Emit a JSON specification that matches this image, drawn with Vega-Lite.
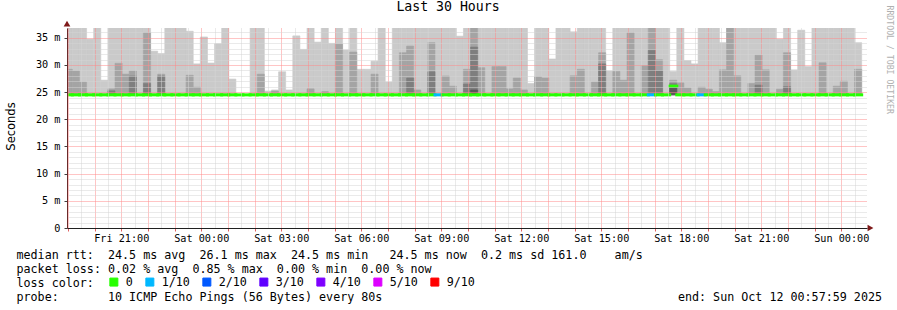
{
  "$schema": "https://vega.github.io/schema/vega-lite/v6.json",
  "width": 800,
  "height": 200,
  "autosize": {"type": "none"},
  "padding": {"left": 67, "top": 28, "right": 30, "bottom": 82},
  "background": "white",
  "title": {"text": "Last 30 Hours", "font": "DejaVu Sans Mono", "fontSize": 13.2, "fontWeight": "normal", "color": "#000000", "anchor": "middle", "frame": "group", "dx": -19, "dy": 23, "offset": 4, "baseline": "alphabetic"},
  "config": {"view": {"stroke": null}},
  "data": {"values": [
    {"t0":"2025-10-10T18:54","t1":"2025-10-10T19:10","b1":37,"b2":29.2,"m":24.5,"loss":"0"},
    {"t0":"2025-10-10T19:10","t1":"2025-10-10T19:26","b1":37,"b2":28.9,"m":24.5,"loss":"0"},
    {"t0":"2025-10-10T19:26","t1":"2025-10-10T19:42","b1":37,"b2":26.85,"m":24.5,"loss":"0"},
    {"t0":"2025-10-10T19:42","t1":"2025-10-10T19:58","b1":34.76,"m":24.5,"loss":"0"},
    {"t0":"2025-10-10T19:58","t1":"2025-10-10T20:14","b1":37,"m":24.5,"loss":"0"},
    {"t0":"2025-10-10T20:14","t1":"2025-10-10T20:30","b1":27.2,"m":24.5,"loss":"0"},
    {"t0":"2025-10-10T20:30","t1":"2025-10-10T20:46","b1":37,"b2":25.6,"b3":25.25,"m":24.5,"loss":"0"},
    {"t0":"2025-10-10T20:46","t1":"2025-10-10T21:02","b1":37,"b2":30.3,"m":24.5,"loss":"0"},
    {"t0":"2025-10-10T21:02","t1":"2025-10-10T21:18","b1":37,"b2":28.3,"m":24.5,"loss":"0"},
    {"t0":"2025-10-10T21:18","t1":"2025-10-10T21:34","b1":37,"b2":28.9,"b3":27.96,"m":24.5,"loss":"0"},
    {"t0":"2025-10-10T21:34","t1":"2025-10-10T21:50","b1":37,"m":24.5,"loss":"0"},
    {"t0":"2025-10-10T21:50","t1":"2025-10-10T22:06","b1":37,"b2":35.9,"b3":26.6,"m":24.5,"loss":"0"},
    {"t0":"2025-10-10T22:06","t1":"2025-10-10T22:22","b1":32.55,"m":24.5,"loss":"0"},
    {"t0":"2025-10-10T22:22","t1":"2025-10-10T22:38","b1":32.1,"b2":28.3,"b3":27.96,"m":24.5,"loss":"0"},
    {"t0":"2025-10-10T22:38","t1":"2025-10-10T22:54","b1":37,"m":24.5,"loss":"0"},
    {"t0":"2025-10-10T22:54","t1":"2025-10-10T23:10","b1":37,"m":24.5,"loss":"0"},
    {"t0":"2025-10-10T23:10","t1":"2025-10-10T23:26","b1":37,"m":24.5,"loss":"0"},
    {"t0":"2025-10-10T23:26","t1":"2025-10-10T23:42","b1":36.2,"b2":28.1,"m":24.5,"loss":"0"},
    {"t0":"2025-10-10T23:42","t1":"2025-10-10T23:58","b1":30.2,"b2":25.9,"m":24.5,"loss":"0"},
    {"t0":"2025-10-10T23:58","t1":"2025-10-11T00:14","b1":35.15,"m":24.5,"loss":"0"},
    {"t0":"2025-10-11T00:14","t1":"2025-10-11T00:30","b1":30.35,"m":24.5,"loss":"0"},
    {"t0":"2025-10-11T00:30","t1":"2025-10-11T00:46","b1":33.9,"m":24.5,"loss":"0"},
    {"t0":"2025-10-11T00:46","t1":"2025-10-11T01:02","b1":37,"m":24.5,"loss":"0"},
    {"t0":"2025-10-11T01:02","t1":"2025-10-11T01:18","b1":27.4,"m":24.5,"loss":"0"},
    {"t0":"2025-10-11T01:18","t1":"2025-10-11T01:34","m":24.5,"loss":"0"},
    {"t0":"2025-10-11T01:34","t1":"2025-10-11T01:50","m":24.5,"loss":"0"},
    {"t0":"2025-10-11T01:50","t1":"2025-10-11T02:06","b1":37,"m":24.5,"loss":"0"},
    {"t0":"2025-10-11T02:06","t1":"2025-10-11T02:22","b1":37,"b2":28.3,"m":24.5,"loss":"0"},
    {"t0":"2025-10-11T02:22","t1":"2025-10-11T02:38","b1":25.2,"m":24.5,"loss":"0"},
    {"t0":"2025-10-11T02:38","t1":"2025-10-11T02:54","b1":25.4,"b2":25.2,"m":24.5,"loss":"0"},
    {"t0":"2025-10-11T02:54","t1":"2025-10-11T03:10","b1":28.75,"m":24.5,"loss":"0"},
    {"t0":"2025-10-11T03:10","t1":"2025-10-11T03:26","b1":25.4,"m":24.5,"loss":"0"},
    {"t0":"2025-10-11T03:26","t1":"2025-10-11T03:42","b1":35.35,"m":24.5,"loss":"0"},
    {"t0":"2025-10-11T03:42","t1":"2025-10-11T03:58","b1":32.86,"m":24.5,"loss":"0"},
    {"t0":"2025-10-11T03:58","t1":"2025-10-11T04:14","b1":37,"b2":25.6,"m":24.5,"loss":"0"},
    {"t0":"2025-10-11T04:14","t1":"2025-10-11T04:30","b1":34.2,"m":24.5,"loss":"0"},
    {"t0":"2025-10-11T04:30","t1":"2025-10-11T04:46","b1":37,"b2":25.1,"m":24.5,"loss":"0"},
    {"t0":"2025-10-11T04:46","t1":"2025-10-11T05:02","b1":33.97,"m":24.5,"loss":"0"},
    {"t0":"2025-10-11T05:02","t1":"2025-10-11T05:18","b1":37,"b2":33.84,"m":24.5,"loss":"0"},
    {"t0":"2025-10-11T05:18","t1":"2025-10-11T05:34","b1":32.74,"m":24.5,"loss":"0"},
    {"t0":"2025-10-11T05:34","t1":"2025-10-11T05:50","b1":37,"b2":32.37,"m":24.5,"loss":"0"},
    {"t0":"2025-10-11T05:50","t1":"2025-10-11T06:06","b1":29.2,"m":24.5,"loss":"0"},
    {"t0":"2025-10-11T06:06","t1":"2025-10-11T06:22","b1":29.2,"m":24.5,"loss":"0"},
    {"t0":"2025-10-11T06:22","t1":"2025-10-11T06:38","b1":30.7,"b2":28.3,"m":24.5,"loss":"0"},
    {"t0":"2025-10-11T06:38","t1":"2025-10-11T06:54","b1":37,"m":24.5,"loss":"0"},
    {"t0":"2025-10-11T06:54","t1":"2025-10-11T07:10","b1":26.85,"m":24.5,"loss":"0"},
    {"t0":"2025-10-11T07:10","t1":"2025-10-11T07:26","b1":37,"m":24.5,"loss":"0"},
    {"t0":"2025-10-11T07:26","t1":"2025-10-11T07:42","b1":37,"b2":32.25,"m":24.5,"loss":"0"},
    {"t0":"2025-10-11T07:42","t1":"2025-10-11T07:58","b1":37,"b2":33.47,"b3":27.6,"m":24.5,"loss":"0"},
    {"t0":"2025-10-11T07:58","t1":"2025-10-11T08:14","b1":37,"b2":25.4,"m":24.5,"loss":"0"},
    {"t0":"2025-10-11T08:14","t1":"2025-10-11T08:30","b1":37,"m":24.5,"loss":"0"},
    {"t0":"2025-10-11T08:30","t1":"2025-10-11T08:46","b1":37,"b2":34.1,"b3":28.75,"m":24.5,"loss":"0"},
    {"t0":"2025-10-11T08:46","t1":"2025-10-11T09:02","b1":37,"m":24.5,"loss":"1/10"},
    {"t0":"2025-10-11T09:02","t1":"2025-10-11T09:18","b1":37,"b2":27.96,"m":24.5,"loss":"0"},
    {"t0":"2025-10-11T09:18","t1":"2025-10-11T09:34","b1":37,"b2":26.1,"m":24.5,"loss":"0"},
    {"t0":"2025-10-11T09:34","t1":"2025-10-11T09:50","b1":35.3,"m":24.5,"loss":"0"},
    {"t0":"2025-10-11T09:50","t1":"2025-10-11T10:06","b1":37,"b2":29.2,"b3":26.5,"m":24.5,"loss":"0"},
    {"t0":"2025-10-11T10:06","t1":"2025-10-11T10:22","b1":37,"b2":37,"b3":33.3,"b4":25.4,"m":24.5,"loss":"0"},
    {"t0":"2025-10-11T10:22","t1":"2025-10-11T10:38","b1":37,"b2":29.5,"m":24.5,"loss":"0"},
    {"t0":"2025-10-11T10:38","t1":"2025-10-11T10:54","b1":37,"m":24.5,"loss":"0"},
    {"t0":"2025-10-11T10:54","t1":"2025-10-11T11:10","b1":37,"b2":29.7,"m":24.5,"loss":"0"},
    {"t0":"2025-10-11T11:10","t1":"2025-10-11T11:26","b1":37,"b2":29.7,"m":24.5,"loss":"0"},
    {"t0":"2025-10-11T11:26","t1":"2025-10-11T11:42","b1":37,"b2":25.6,"m":24.5,"loss":"0"},
    {"t0":"2025-10-11T11:42","t1":"2025-10-11T11:58","b1":37,"b2":27.6,"m":24.5,"loss":"0"},
    {"t0":"2025-10-11T11:58","t1":"2025-10-11T12:14","b1":37,"b2":25.4,"m":24.5,"loss":"0"},
    {"t0":"2025-10-11T12:14","t1":"2025-10-11T12:30","b1":26.6,"m":24.5,"loss":"0"},
    {"t0":"2025-10-11T12:30","t1":"2025-10-11T12:46","b1":37,"b2":27.8,"m":24.5,"loss":"0"},
    {"t0":"2025-10-11T12:46","t1":"2025-10-11T13:02","b1":37,"b2":27.6,"m":24.5,"loss":"0"},
    {"t0":"2025-10-11T13:02","t1":"2025-10-11T13:18","b1":31.1,"m":24.5,"loss":"0"},
    {"t0":"2025-10-11T13:18","t1":"2025-10-11T13:34","b1":37,"m":24.5,"loss":"0"},
    {"t0":"2025-10-11T13:34","t1":"2025-10-11T13:50","b1":37,"m":24.5,"loss":"0"},
    {"t0":"2025-10-11T13:50","t1":"2025-10-11T14:06","b1":36.1,"b2":28.0,"m":24.5,"loss":"0"},
    {"t0":"2025-10-11T14:06","t1":"2025-10-11T14:22","b1":37,"b2":29.2,"m":24.5,"loss":"0"},
    {"t0":"2025-10-11T14:22","t1":"2025-10-11T14:38","b1":37,"m":24.5,"loss":"0"},
    {"t0":"2025-10-11T14:38","t1":"2025-10-11T14:54","b1":37,"b2":26.85,"m":24.5,"loss":"0"},
    {"t0":"2025-10-11T14:54","t1":"2025-10-11T15:10","b1":37,"b2":32.25,"b3":30.2,"m":24.5,"loss":"0"},
    {"t0":"2025-10-11T15:10","t1":"2025-10-11T15:26","b1":28.9,"m":24.5,"loss":"0"},
    {"t0":"2025-10-11T15:26","t1":"2025-10-11T15:42","b1":37,"b2":28.8,"m":24.5,"loss":"0"},
    {"t0":"2025-10-11T15:42","t1":"2025-10-11T15:58","b1":37,"b2":27.2,"m":24.5,"loss":"0"},
    {"t0":"2025-10-11T15:58","t1":"2025-10-11T16:14","b1":37,"b2":35.9,"m":24.5,"loss":"0"},
    {"t0":"2025-10-11T16:14","t1":"2025-10-11T16:30","b1":37,"m":24.5,"loss":"0"},
    {"t0":"2025-10-11T16:30","t1":"2025-10-11T16:46","b1":37,"b2":29.85,"m":24.5,"loss":"0"},
    {"t0":"2025-10-11T16:46","t1":"2025-10-11T17:02","b1":37,"b2":37,"b3":32.7,"m":24.5,"loss":"1/10"},
    {"t0":"2025-10-11T17:02","t1":"2025-10-11T17:18","b1":37,"b2":30.97,"b3":28.9,"m":24.5,"loss":"0"},
    {"t0":"2025-10-11T17:18","t1":"2025-10-11T17:34","b1":37,"m":24.5,"loss":"0"},
    {"t0":"2025-10-11T17:34","t1":"2025-10-11T17:50","b1":28.8,"b2":27.2,"b3":26.6,"b4":26.1,"m":26.1,"loss":"0"},
    {"t0":"2025-10-11T17:50","t1":"2025-10-11T18:06","b1":37,"b2":26.7,"m":24.5,"loss":"0"},
    {"t0":"2025-10-11T18:06","t1":"2025-10-11T18:22","b1":30.8,"b2":25.75,"m":24.5,"loss":"0"},
    {"t0":"2025-10-11T18:22","t1":"2025-10-11T18:38","b1":30.2,"m":24.5,"loss":"0"},
    {"t0":"2025-10-11T18:38","t1":"2025-10-11T18:54","b1":37,"b2":25.9,"m":24.5,"loss":"1/10"},
    {"t0":"2025-10-11T18:54","t1":"2025-10-11T19:10","b1":37,"b2":25.55,"m":24.5,"loss":"0"},
    {"t0":"2025-10-11T19:10","t1":"2025-10-11T19:26","b1":37,"b2":25.1,"m":24.5,"loss":"0"},
    {"t0":"2025-10-11T19:26","t1":"2025-10-11T19:42","b1":34.1,"b2":29.1,"m":24.5,"loss":"0"},
    {"t0":"2025-10-11T19:42","t1":"2025-10-11T19:58","b1":37,"b2":37,"m":24.5,"loss":"0"},
    {"t0":"2025-10-11T19:58","t1":"2025-10-11T20:14","b1":37,"b2":28.0,"m":24.5,"loss":"0"},
    {"t0":"2025-10-11T20:14","t1":"2025-10-11T20:30","b1":37,"m":24.5,"loss":"0"},
    {"t0":"2025-10-11T20:30","t1":"2025-10-11T20:46","b1":37,"b2":26.6,"m":24.5,"loss":"0"},
    {"t0":"2025-10-11T20:46","t1":"2025-10-11T21:02","b1":37,"b2":31.8,"b3":26.3,"m":24.5,"loss":"0"},
    {"t0":"2025-10-11T21:02","t1":"2025-10-11T21:18","b1":37,"b2":29.1,"m":24.5,"loss":"0"},
    {"t0":"2025-10-11T21:18","t1":"2025-10-11T21:34","b1":37,"m":24.5,"loss":"0"},
    {"t0":"2025-10-11T21:34","t1":"2025-10-11T21:50","b1":34.76,"b2":25.55,"m":24.5,"loss":"0"},
    {"t0":"2025-10-11T21:50","t1":"2025-10-11T22:06","b1":37,"b2":32.25,"b3":26.0,"m":24.5,"loss":"0"},
    {"t0":"2025-10-11T22:06","t1":"2025-10-11T22:22","b1":29.1,"m":24.5,"loss":"0"},
    {"t0":"2025-10-11T22:22","t1":"2025-10-11T22:38","b1":36.4,"m":24.5,"loss":"0"},
    {"t0":"2025-10-11T22:38","t1":"2025-10-11T22:54","b1":29.7,"m":24.5,"loss":"0"},
    {"t0":"2025-10-11T22:54","t1":"2025-10-11T23:10","b1":37,"m":24.5,"loss":"0"},
    {"t0":"2025-10-11T23:10","t1":"2025-10-11T23:26","b1":37,"b2":30.4,"m":24.5,"loss":"0"},
    {"t0":"2025-10-11T23:26","t1":"2025-10-11T23:42","b1":37,"m":24.5,"loss":"0"},
    {"t0":"2025-10-11T23:42","t1":"2025-10-11T23:58","b1":37,"b2":26.1,"m":24.5,"loss":"0"},
    {"t0":"2025-10-11T23:58","t1":"2025-10-12T00:14","b1":37,"b2":27.0,"m":24.5,"loss":"0"},
    {"t0":"2025-10-12T00:14","t1":"2025-10-12T00:30","b1":37,"m":24.5,"loss":"0"},
    {"t0":"2025-10-12T00:30","t1":"2025-10-12T00:46","b1":34.1,"b2":29.2,"m":24.5,"loss":"0"}
  ]},
  "layer": [
    {
      "transform": [
        {"fold": ["b1", "b2", "b3", "b4"], "as": ["band", "v"]},
        {"filter": "isValid(datum.v)"}
      ],
      "mark": {"type": "rect", "clip": true, "strokeWidth": 0.6},
      "encoding": {
        "x": {
          "field": "t0", "type": "temporal",
          "scale": {"domain": [{"year": 2025, "month": 10, "date": 10, "hours": 18, "minutes": 57, "seconds": 59}, {"year": 2025, "month": 10, "date": 12, "hours": 0, "minutes": 57, "seconds": 59}], "nice": false},
          "axis": {
            "orient": "bottom", "zindex": 1,
            "tickCount": 60,
            "labelExpr": "(minutes(datum.value) == 0 && hours(datum.value) % 3 == 0) ? timeFormat(datum.value, '%a %H:%M') : ''",
            "labelFont": "DejaVu Sans Mono", "labelFontSize": 10.2, "labelColor": "#000000", "labelPadding": 2,
            "labelOverlap": false, "labelFlush": false, "labelAngle": 0,
            "grid": true,
            "gridColor": {"condition": {"test": "minutes(datum.value) == 0", "value": "#ff8a8a"}, "value": "#d4d4d4"},
            "gridDash": [1, 1], "gridWidth": 1,
            "ticks": true, "tickSize": 3,
            "tickColor": {"condition": {"test": "minutes(datum.value) == 0", "value": "#e06060"}, "value": "transparent"},
            "domainColor": "#202020", "domainWidth": 1,
            "title": [
              "median rtt:\u00a0\u00a024.5 ms avg\u00a0\u00a026.1 ms max\u00a0\u00a024.5 ms min\u00a0\u00a0\u00a024.5 ms now\u00a0\u00a00.2 ms sd 161.0\u00a0\u00a0\u00a0\u00a0am/s",
              "packet loss: 0.02 % avg\u00a0\u00a00.85 % max\u00a0\u00a00.00 % min\u00a0\u00a00.00 % now",
              "loss color:",
              "probe:\u00a0\u00a0\u00a0\u00a0\u00a0\u00a0\u00a010 ICMP Echo Pings (56 Bytes) every 80s\u00a0\u00a0\u00a0\u00a0\u00a0\u00a0\u00a0\u00a0\u00a0\u00a0\u00a0\u00a0\u00a0\u00a0\u00a0\u00a0\u00a0\u00a0\u00a0\u00a0\u00a0\u00a0\u00a0\u00a0\u00a0\u00a0\u00a0\u00a0\u00a0\u00a0\u00a0\u00a0\u00a0\u00a0\u00a0\u00a0\u00a0\u00a0\u00a0\u00a0\u00a0\u00a0end: Sun Oct 12 00:57:59 2025"
            ],
            "titleFont": "DejaVu Sans Mono", "titleFontSize": 11.7, "titleFontWeight": "normal", "titleColor": "#000000",
            "titleX": -51, "titleY": 30, "titleAlign": "left", "titleBaseline": "alphabetic", "titleLineHeight": 14, "titleLimit": 1000, "titleAnchor": "start"
          }
        },
        "x2": {"field": "t1"},
        "y": {
          "field": "v", "type": "quantitative",
          "scale": {"domain": [0, 36.8], "nice": false, "zero": true},
          "axis": {
            "orient": "left", "zindex": 1,
            "values": [0,1,2,3,4,5,6,7,8,9,10,11,12,13,14,15,16,17,18,19,20,21,22,23,24,25,26,27,28,29,30,31,32,33,34,35,36],
            "labelExpr": "datum.value % 5 == 0 ? (datum.value == 0 ? '0' : datum.value + ' m') : ''",
            "labelFont": "DejaVu Sans Mono", "labelFontSize": 10.2, "labelColor": "#000000", "labelPadding": 4, "labelOverlap": false,
            "grid": true,
            "gridColor": {"condition": {"test": "datum.value % 5 == 0", "value": "#ff8a8a"}, "value": "#d4d4d4"},
            "gridDash": [1, 1], "gridWidth": 1,
            "tickSize": 3,
            "tickColor": {"condition": {"test": "datum.value % 5 == 0", "value": "#404040"}, "value": "transparent"},
            "domainColor": "#6a2a2a",
            "title": "Seconds", "titleFont": "DejaVu Sans", "titleFontSize": 11.5, "titleFontWeight": "normal", "titleColor": "#000000",
            "titleAngle": -90, "titleX": -56, "titleY": 98, "titleAlign": "center", "titleBaseline": "middle"
          }
        },
        "y2": {"datum": 24.5},
        "fill": {"field": "band", "type": "nominal", "scale": {"domain": ["b1", "b2", "b3", "b4"], "range": ["#cacaca", "#a4a4a4", "#7e7e7e", "#585858"]}, "legend": null},
        "stroke": {"field": "band", "type": "nominal", "scale": {"domain": ["b1", "b2", "b3", "b4"], "range": ["#cacaca", "#a4a4a4", "#7e7e7e", "#585858"]}, "legend": null},
        "order": {"field": "band", "type": "ordinal"}
      }
    },
    {
      "mark": {"type": "rule", "clip": true, "strokeWidth": 3, "strokeCap": "square"},
      "encoding": {
        "x": {"field": "t0", "type": "temporal"},
        "x2": {"field": "t1"},
        "y": {"field": "m", "type": "quantitative", "axis": null},
        "color": {
          "field": "loss", "type": "nominal",
          "scale": {"domain": ["0", "1/10", "2/10", "3/10", "4/10", "5/10", "9/10"], "range": ["#26ff00", "#00b8ff", "#0059ff", "#5e00ff", "#7e00ff", "#dd00ff", "#ff0000"]},
          "legend": {
            "orient": "none", "legendX": 41, "legendY": 248, "direction": "horizontal",
            "title": null,
            "labelFont": "DejaVu Sans Mono", "labelFontSize": 11.7, "labelColor": "#000000", "labelOffset": 6,
            "symbolType": "square", "symbolSize": 64, "symbolStrokeWidth": 1, "symbolStrokeColor": "#000000",
            "columnPadding": 10, "padding": 0, "offset": 0,
            "encode": {"symbols": {"update": {"fill": {"scale": "color", "field": "value"}, "stroke": {"value": "#000000"}, "strokeWidth": {"value": 1}, "opacity": {"value": 1}, "shape": {"value": "square"}}}}
          }
        }
      }
    },
    {
      "data": {"values": [{}]},
      "mark": {"type": "point", "shape": "triangle-up", "filled": true, "size": 45, "color": "#7f1a1a", "opacity": 1},
      "encoding": {
        "x": {"datum": {"year": 2025, "month": 10, "date": 10, "hours": 18, "minutes": 57, "seconds": 59}, "type": "temporal"},
        "y": {"datum": 37.6, "type": "quantitative", "axis": {"orient": "right", "title": "RRDTOOL / TOBI OETIKER", "labels": false, "ticks": false, "domain": false, "grid": false, "titleAngle": 90, "titleX": 21, "titleY": -23, "titleAlign": "left", "titleBaseline": "middle", "titleFont": "DejaVu Sans Mono", "titleFontSize": 8.2, "titleFontWeight": "normal", "titleColor": "#b0b0b0", "titleLimit": 300}}
      }
    },
    {
      "data": {"values": [{}]},
      "mark": {"type": "point", "shape": "triangle-right", "filled": true, "size": 45, "color": "#7f1a1a", "opacity": 1},
      "encoding": {
        "x": {"datum": {"year": 2025, "month": 10, "date": 12, "hours": 1, "minutes": 5, "seconds": 50}, "type": "temporal"},
        "y": {"datum": 0, "type": "quantitative", "axis": null}
      }
    }
  ]
}
